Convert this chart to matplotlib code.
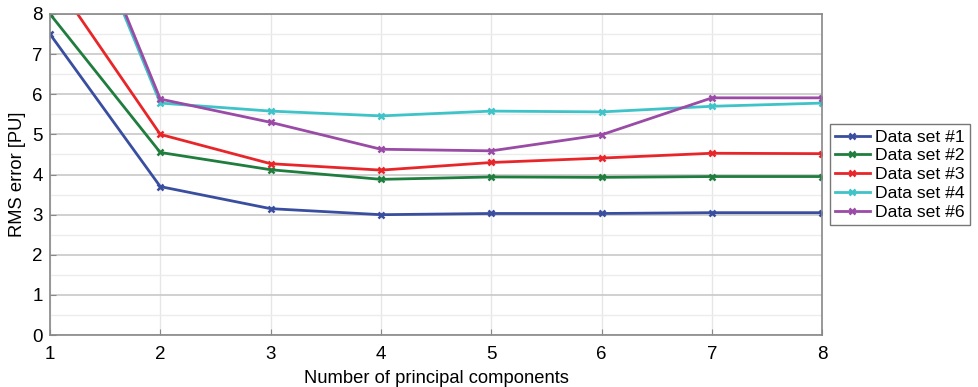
import matplotlib.pyplot as plt
import numpy as np

plt.rcParams['font.family'] = ['Liberation Sans', 'DejaVu Sans']

# Data
components = [1, 2, 3, 4, 5, 6, 7, 8]
set1 = [7.5, 3.7, 3.15, 3.0, 3.03, 3.03, 3.05, 3.05]
set2 = [8.0, 4.55, 4.12, 3.88, 3.94, 3.93, 3.95, 3.95]
set3 = [9.0, 5.0, 4.27, 4.11, 4.30, 4.41, 4.53, 4.52]
set4 = [12.5, 5.78, 5.58, 5.46, 5.58, 5.56, 5.70, 5.78]
set6 = [12.6, 5.88, 5.30, 4.63, 4.59, 4.99, 5.91, 5.91]

labels = ["Data set #1", "Data set #2", "Data set #3", "Data set #4", "Data set #6"]
colors = ["#3a4ea0", "#1f7d3e", "#e8262a", "#3ec3c8", "#9a4ba6"]

fig = plt.figure(figsize=(9.79, 3.87), dpi=100)
ax = fig.add_axes([0.051, 0.134, 0.789, 0.83])

for ys, lab, c in zip([set1, set2, set3, set4, set6], labels, colors):
    ax.plot(components, ys, color=c, lw=2, marker='x', markersize=4,
            markeredgewidth=1.8, label=lab)

ax.set_xlim(1, 8)
ax.set_ylim(0, 8)
ax.set_xticks(components)
ax.set_yticks(range(0, 9))
ax.set_yticks(np.arange(0.5, 8, 1), minor=True)
ax.grid(True, axis='y', which='major', color='#c8c8c8', lw=1.2)
ax.grid(True, axis='y', which='minor', color='#ececec', lw=1)
ax.grid(True, axis='x', which='major', color='#e6e6e6', lw=1)
ax.tick_params(axis='both', which='major', labelsize=13.5, length=4,
               direction='in', color='#888888', pad=5)
ax.tick_params(axis='x', which='major', pad=8)
ax.tick_params(axis='y', which='minor', length=0)
for s in ax.spines.values():
    s.set_color('#888888')
    s.set_linewidth(1.2)

ax.set_xlabel("Number of principal components", fontsize=13.2, labelpad=5)
ax.set_ylabel("RMS error [PU]", fontsize=13.2, labelpad=5)

leg = ax.legend(loc='center left', bbox_to_anchor=(1.0095, 0.5), fontsize=12.6,
                frameon=True, fancybox=False, edgecolor='#555555',
                handlelength=2.0, handletextpad=0.3, borderpad=0.3,
                labelspacing=0.2, borderaxespad=0)
leg.get_frame().set_linewidth(1.0)

fig.savefig("out.png", dpi=100)
